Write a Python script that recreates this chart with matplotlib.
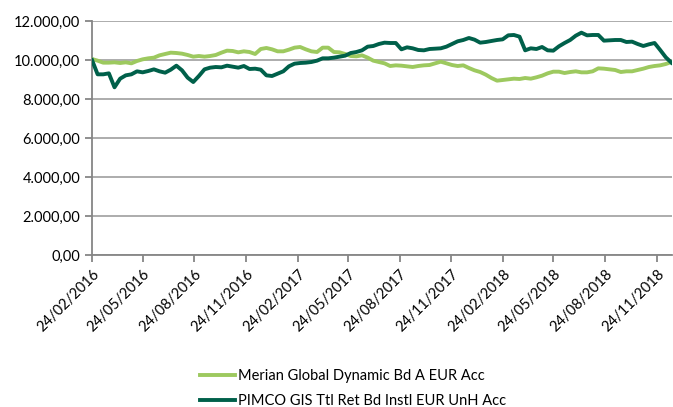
import numpy as np
import pandas as pd
from matplotlib import pyplot as plt
from matplotlib import dates as mdates
from matplotlib.ticker import FuncFormatter

# 10-day sampling of both funds
dates = pd.date_range("2016-02-24", periods=104, freq="10D")

merian = [
    10050, 9966, 9863, 9863, 9880, 9846, 9880, 9829, 9949, 10034,
    10086, 10120, 10239, 10308, 10376, 10359, 10325, 10257, 10171, 10205,
    10171, 10205, 10257, 10376, 10479, 10462, 10393, 10445, 10410, 10308,
    10564, 10616, 10547, 10445, 10445, 10530, 10633, 10667, 10547, 10445,
    10410, 10633, 10633, 10410, 10393, 10308, 10205, 10188, 10239, 10120,
    9966, 9897, 9829, 9692, 9726, 9709, 9675, 9641, 9692, 9726,
    9743, 9829, 9914, 9829, 9743, 9692, 9726, 9590, 9470, 9384,
    9248, 9077, 8940, 8974, 9008, 9042, 9025, 9077, 9042, 9111,
    9196, 9316, 9401, 9401, 9333, 9384, 9419, 9367, 9367, 9419,
    9572, 9555, 9521, 9487, 9384, 9419, 9419, 9487, 9555, 9641,
    9692, 9726, 9795, 9897,
]

pimco = [
    10000, 9265, 9265, 9316, 8600, 9042, 9213, 9265, 9419, 9367,
    9436, 9521, 9419, 9350, 9504, 9709, 9470, 9094, 8871, 9179,
    9521, 9607, 9641, 9624, 9709, 9658, 9607, 9692, 9538, 9555,
    9504, 9213, 9179, 9299, 9419, 9675, 9812, 9846, 9863, 9897,
    9966, 10086, 10086, 10120, 10171, 10222, 10359, 10410, 10496, 10684,
    10718, 10821, 10889, 10872, 10872, 10547, 10650, 10599, 10513, 10496,
    10564, 10581, 10599, 10684, 10821, 10958, 11026, 11129, 11043, 10889,
    10923, 10975, 11026, 11060, 11265, 11283, 11197, 10496, 10599, 10564,
    10667, 10496, 10479, 10701, 10872, 11026, 11248, 11402, 11265, 11283,
    11283, 10992, 11009, 11026, 11026, 10923, 10941, 10821, 10718, 10804,
    10872, 10513, 10137, 9863,
]

labels = ["Merian Global Dynamic Bd A EUR Acc", "PIMCO GIS Ttl Ret Bd Instl EUR UnH Acc"]
tick_dates = pd.to_datetime([
    "2016-02-24", "2016-05-24", "2016-08-24", "2016-11-24",
    "2017-02-24", "2017-05-24", "2017-08-24", "2017-11-24",
    "2018-02-24", "2018-05-24", "2018-08-24", "2018-11-24",
])

plt.rcParams["font.family"] = ["Lato", "DejaVu Sans"]

fig = plt.figure(figsize=(6.73, 4.07), dpi=100)
ax = fig.add_axes([0.1367, 0.3735, 0.8618, 0.5749])

ax.plot(dates, merian, color="#9DC95F", lw=2.8, label=labels[0], zorder=3)
ax.plot(dates, pimco, color="#00604A", lw=2.8, label=labels[1], zorder=4)

ax.set_ylim(0, 12000)
ax.set_yticks(np.arange(0, 12001, 2000))
ax.yaxis.set_major_formatter(FuncFormatter(
    lambda v, p: f"{v:,.2f}".replace(",", "X").replace(".", ",").replace("X", ".")))
ax.grid(axis="y", color="#a6a6a6", lw=1.3)
ax.set_axisbelow(True)

ax.set_xlim(pd.Timestamp("2016-02-24"), pd.Timestamp("2018-12-21"))
ax.set_xticks(tick_dates)
ax.xaxis.set_major_formatter(mdates.DateFormatter("%d/%m/%Y"))
plt.setp(ax.get_xticklabels(), rotation=45, ha="right", rotation_mode="anchor")

for side in ["top", "right"]:
    ax.spines[side].set_visible(False)
for side in ["left", "bottom"]:
    ax.spines[side].set_color("#868686")
    ax.spines[side].set_linewidth(1.3)
ax.tick_params(axis="both", color="#868686", width=1.3, length=5, labelsize=10.5,
               labelcolor="#000000")

ax.legend(loc="upper center", bbox_to_anchor=(0.45, -0.462), ncol=1, frameon=False,
          fontsize=10.5, handlelength=2.4, handletextpad=0.25, labelspacing=0.75,
          borderaxespad=0.0)

fig.savefig("out.png", dpi=100)
